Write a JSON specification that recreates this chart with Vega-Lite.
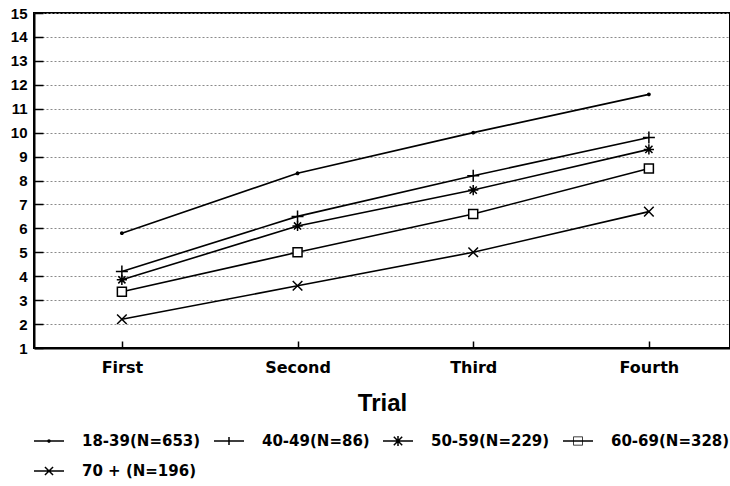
{
  "$schema": "https://vega.github.io/schema/vega-lite/v6.json",
  "width": 696,
  "height": 335,
  "autosize": "none",
  "padding": {"left": 34, "top": 13, "right": 0, "bottom": 138},
  "background": "white",
  "config": {
    "view": {"stroke": "black", "strokeWidth": 2},
    "axis": {"domainColor": "black", "domainWidth": 2, "tickColor": "black", "labelColor": "black", "titleColor": "black"}
  },
  "data": {
    "values": [
      {"group": "18-39(N=653)", "trial": "First", "value": 5.8},
      {"group": "18-39(N=653)", "trial": "Second", "value": 8.3},
      {"group": "18-39(N=653)", "trial": "Third", "value": 10.0},
      {"group": "18-39(N=653)", "trial": "Fourth", "value": 11.6},
      {"group": "40-49(N=86)", "trial": "First", "value": 4.2},
      {"group": "40-49(N=86)", "trial": "Second", "value": 6.5},
      {"group": "40-49(N=86)", "trial": "Third", "value": 8.2},
      {"group": "40-49(N=86)", "trial": "Fourth", "value": 9.8},
      {"group": "50-59(N=229)", "trial": "First", "value": 3.85},
      {"group": "50-59(N=229)", "trial": "Second", "value": 6.1},
      {"group": "50-59(N=229)", "trial": "Third", "value": 7.6},
      {"group": "50-59(N=229)", "trial": "Fourth", "value": 9.3},
      {"group": "60-69(N=328)", "trial": "First", "value": 3.35},
      {"group": "60-69(N=328)", "trial": "Second", "value": 5.0},
      {"group": "60-69(N=328)", "trial": "Third", "value": 6.6},
      {"group": "60-69(N=328)", "trial": "Fourth", "value": 8.5},
      {"group": "70 + (N=196)", "trial": "First", "value": 2.2},
      {"group": "70 + (N=196)", "trial": "Second", "value": 3.6},
      {"group": "70 + (N=196)", "trial": "Third", "value": 5.0},
      {"group": "70 + (N=196)", "trial": "Fourth", "value": 6.7}
    ]
  },
  "encoding": {
    "x": {
      "field": "trial", "type": "ordinal",
      "sort": ["First", "Second", "Third", "Fourth"],
      "scale": {"type": "point", "padding": 0.481, "align": 0.52},
      "axis": {
        "title": "Trial", "labelAngle": 0,
        "labelFont": "DejaVu Sans", "labelFontWeight": "bold", "labelFontSize": 16,
        "labelPadding": 18, "tickSize": -7, "tickWidth": 1.5,
        "titleFont": "Liberation Sans", "titleFontWeight": "bold", "titleFontSize": 24,
        "titlePadding": 16, "grid": false
      }
    },
    "y": {
      "field": "value", "type": "quantitative",
      "scale": {"domain": [1, 15], "nice": false, "zero": false},
      "axis": {
        "title": null, "values": [1,2,3,4,5,6,7,8,9,10,11,12,13,14,15],
        "labelFont": "Liberation Sans", "labelFontWeight": "bold", "labelFontSize": 15,
        "labelPadding": 16, "tickSize": -9, "tickWidth": 1.5,
        "grid": true, "gridColor": "#8a8a8a", "gridDash": [2, 2], "gridWidth": 1
      }
    }
  },
  "layer": [
    {
      "mark": {"type": "line", "color": "black", "strokeWidth": 1.6},
      "encoding": {"detail": {"field": "group"}}
    },
    {
      "mark": {"type": "point", "filled": false, "fill": "white", "stroke": "black", "strokeWidth": 1.5, "opacity": 1, "size": 144},
      "encoding": {
        "shape": {
          "field": "group", "type": "nominal",
          "scale": {
            "domain": ["18-39(N=653)", "40-49(N=86)", "50-59(N=229)", "60-69(N=328)", "70 + (N=196)"],
            "range": [
              "M-0.2,0A0.2,0.2,0,1,0,0.2,0A0.2,0.2,0,1,0,-0.2,0ZM-0.1,0H0.1",
              "M-1,0H1M0,-1V1",
              "M-0.85,0H0.85M0,-0.85V0.85M-0.6,-0.6L0.6,0.6M-0.6,0.6L0.6,-0.6",
              "M-0.75,-0.75H0.75V0.75H-0.75Z",
              "M-0.8,-0.8L0.8,0.8M-0.8,0.8L0.8,-0.8"
            ]
          },
          "legend": null
        }
      }
    },
    {
      "transform": [{"filter": "false"}],
      "mark": {"type": "point", "filled": true, "color": "black", "opacity": 1, "size": 900},
      "encoding": {
        "shape": {
          "field": "group", "type": "nominal",
          "scale": {
            "domain": ["18-39(N=653)", "40-49(N=86)", "50-59(N=229)", "60-69(N=328)", "70 + (N=196)"],
            "range": [
              "M-1,-0.05H1V0.05H-1ZM-0.12,0A0.12,0.12,0,1,1,0.12,0A0.12,0.12,0,1,1,-0.12,0Z",
              "M-1,-0.05H1V0.05H-1ZM-0.05,-0.27H0.05V0.27H-0.05Z",
              "M-1,-0.05H1V0.05H-1ZM-0.05,-0.33H0.05V0.33H-0.05ZM-0.245,-0.315L0.315,0.245L0.245,0.315L-0.315,-0.245ZM-0.315,0.245L0.245,-0.315L0.315,-0.245L-0.245,0.315Z",
              "M-1,-0.05H1V0.05H-1ZM-0.32,-0.3H0.32V0.3H-0.32ZM-0.27,-0.25V0.25H0.27V-0.25Z",
              "M-1,-0.05H1V0.05H-1ZM-0.235,-0.305L0.305,0.235L0.235,0.305L-0.305,-0.235ZM-0.305,0.235L0.235,-0.305L0.305,-0.235L-0.235,0.305Z"
            ]
          },
          "legend": {
            "title": null, "orient": "bottom", "direction": "horizontal", "columns": 4,
            "offset": 11, "symbolSize": 900, "symbolOpacity": 1, "symbolFillColor": "black", "symbolStrokeWidth": 0,
            "labelFont": "DejaVu Sans", "labelFontWeight": "bold", "labelFontSize": 15, "labelColor": "black",
            "labelOffset": 18, "columnPadding": 13, "rowPadding": 7, "labelLimit": 300
          }
        }
      }
    }
  ],
  "resolve": {"scale": {"shape": "independent"}, "legend": {"shape": "independent"}}
}
